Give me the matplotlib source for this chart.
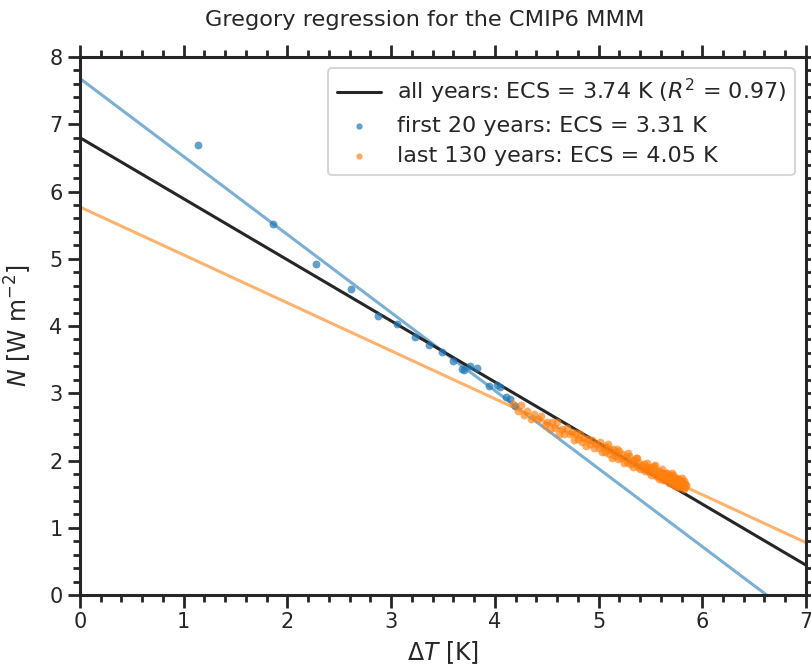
import matplotlib
matplotlib.use('Agg')
import matplotlib.pyplot as plt
import numpy as np
import seaborn as sns

# first 20 years (global mean anomalies)
dT_first = [1.14, 1.86, 2.28, 2.61, 2.87, 3.06, 3.23, 3.37, 3.49, 3.60,
            3.68, 3.70, 3.76, 3.83, 3.94, 4.02, 4.05, 4.11, 4.15, 4.19]
N_first = [6.69, 5.52, 4.92, 4.55, 4.15, 4.03, 3.84, 3.72, 3.61, 3.48,
           3.36, 3.35, 3.40, 3.37, 3.11, 3.12, 3.10, 2.95, 2.91, 2.81]

# last 130 years
dT_last = [4.18, 4.22, 4.25, 4.28, 4.31, 4.35, 4.38, 4.42, 4.45, 4.48,
           4.50, 4.53, 4.55, 4.58, 4.60, 4.62, 4.65, 4.67, 4.70, 4.72,
           4.74, 4.76, 4.78, 4.80, 4.82, 4.84, 4.86, 4.88, 4.90, 4.92,
           4.94, 4.96, 4.98, 5.00, 5.01, 5.03, 5.05, 5.06, 5.08, 5.10,
           5.11, 5.13, 5.14, 5.16, 5.17, 5.19, 5.20, 5.22, 5.23, 5.25,
           5.26, 5.27, 5.29, 5.30, 5.31, 5.33, 5.34, 5.35, 5.37, 5.38,
           5.39, 5.40, 5.42, 5.43, 5.44, 5.45, 5.46, 5.47, 5.48, 5.49,
           5.50, 5.51, 5.52, 5.53, 5.54, 5.55, 5.56, 5.57, 5.58, 5.59,
           5.60, 5.61, 5.62, 5.62, 5.63, 5.64, 5.65, 5.65, 5.66, 5.67,
           5.68, 5.68, 5.69, 5.70, 5.70, 5.71, 5.72, 5.72, 5.73, 5.74,
           5.74, 5.75, 5.75, 5.76, 5.76, 5.77, 5.77, 5.78, 5.78, 5.79,
           5.79, 5.80, 5.80, 5.81, 5.81, 5.82, 5.82, 5.83, 5.83, 5.84,
           5.61, 5.66, 5.71, 5.53, 5.58, 5.47, 5.36, 5.28, 5.18, 5.09]
N_last = [2.84, 2.74, 2.82, 2.68, 2.73, 2.61, 2.69, 2.61, 2.66, 2.53,
          2.58, 2.47, 2.58, 2.48, 2.57, 2.39, 2.47, 2.39, 2.48, 2.39,
          2.42, 2.31, 2.41, 2.32, 2.40, 2.28, 2.33, 2.21, 2.32, 2.25,
          2.31, 2.18, 2.25, 2.19, 2.27, 2.12, 2.21, 2.13, 2.20, 2.09,
          2.15, 2.04, 2.17, 2.07, 2.12, 2.02, 2.14, 2.04, 2.09, 1.97,
          2.05, 1.98, 2.07, 1.95, 2.00, 1.91, 2.01, 1.95, 2.03, 1.90,
          1.97, 1.87, 1.93, 1.88, 1.95, 1.84, 1.91, 1.86, 1.91, 1.83,
          1.87, 1.79, 1.90, 1.81, 1.94, 1.77, 1.84, 1.79, 1.84, 1.75,
          1.82, 1.75, 1.82, 1.71, 1.78, 1.72, 1.81, 1.73, 1.77, 1.69,
          1.75, 1.66, 1.79, 1.69, 1.76, 1.65, 1.71, 1.78, 1.65, 1.72,
          1.62, 1.73, 1.68, 1.62, 1.74, 1.65, 1.70, 1.60, 1.72, 1.66,
          1.61, 1.69, 1.74, 1.61, 1.66, 1.70, 1.58, 1.65, 1.61, 1.63,
          1.87, 1.82, 1.81, 1.92, 1.72, 1.97, 2.03, 2.11, 2.17, 2.24]

# regression lines: (intercept F, slope lambda)
fit_all = (6.80, -0.908)
fit_first = (7.68, -1.160)
fit_last = (5.77, -0.713)

label_all = r'all years: ECS = 3.74 K ($R^2$ = 0.97)'
label_first = 'first 20 years: ECS = 3.31 K'
label_last = 'last 130 years: ECS = 4.05 K'

sns.set_theme(style='ticks', context='talk')
plt.rcParams['font.family'] = ['DejaVu Sans']

fig = plt.figure(figsize=(8.11, 6.69), dpi=100)
ax = fig.add_axes([0.0986, 0.1106, 0.8952, 0.8042])

xx = np.array([0, 7])
ax.plot(xx, fit_all[0] + fit_all[1] * xx, color='#262626', lw=2.2, label=label_all, zorder=3)
ax.plot(xx, fit_first[0] + fit_first[1] * xx, color='#7bafd4', lw=2.2, zorder=2)
ax.plot(xx, fit_last[0] + fit_last[1] * xx, color='#ffb26e', lw=2.2, zorder=2)
ax.scatter(dT_first, N_first, s=32, color='#1f77b4', alpha=0.7, lw=0, label=label_first, zorder=4)
ax.scatter(dT_last, N_last, s=32, color='#ff7f0e', alpha=0.65, lw=0, label=label_last, zorder=4)

ax.set_xlim(0, 7)
ax.set_ylim(0, 8)
ax.set_xticks(range(0, 8))
ax.set_yticks(range(0, 9))
ax.xaxis.set_minor_locator(matplotlib.ticker.MultipleLocator(0.2))
ax.yaxis.set_minor_locator(matplotlib.ticker.MultipleLocator(0.2))
ax.tick_params(which='both', top=True, right=True, direction='out', width=2, color='#262626')
ax.tick_params(which='major', length=9, labelsize=15)
ax.tick_params(which='minor', length=5)
for sp in ax.spines.values():
    sp.set_linewidth(2.2)
    sp.set_color('#262626')

ax.set_xlabel(r'$\Delta T$ [K]', fontsize=17, labelpad=5)
ax.set_ylabel(r'$N$ [W m$^{-2}$]', fontsize=17, labelpad=11)
ax.set_title('Gregory regression for the CMIP6 MMM', fontsize=16.2, pad=22, x=0.475)
ax.legend(loc='upper right', fontsize=16, markerscale=0.8, handlelength=2.0,
          handletextpad=0.7, borderaxespad=0.5, labelspacing=0.45)

fig.savefig('out.png', dpi=100)
